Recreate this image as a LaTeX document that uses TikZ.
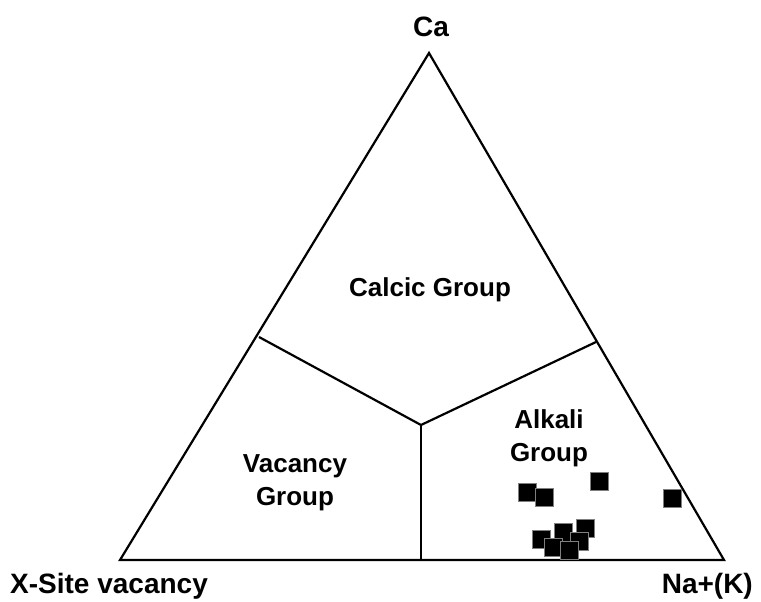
\documentclass[tikz,border=0pt]{standalone}
\usepackage{fontspec}
\setmainfont{Liberation Sans}
\usepackage{xcolor}
\usepackage{tikz}
\definecolor{ink}{HTML}{000000}
\definecolor{rim}{HTML}{7F7F7F}

\begin{document}
\begin{tikzpicture}[x=1pt,y=-1pt,
    corner/.style={font=\fontsize{28}{34}\selectfont\bfseries,inner sep=0pt},
    field/.style={font=\fontsize{26}{33}\selectfont\bfseries,inner sep=0pt,align=center},
    edge/.style={line width=2.2pt,line join=miter}]
  \useasboundingbox (0,0) rectangle (761,602);
  % corners of the diagram
  \coordinate (vac) at (120,560);
  \coordinate (na) at (724,560);
  \coordinate (ca) at (429,53);
  \coordinate (mid) at (421,425);
  \coordinate (lft) at (259,337);
  \coordinate (rgt) at (596,342);
  \coordinate (bot) at (421,560);
  \draw[edge] (vac) -- (na) -- (ca) -- cycle;
  \draw[edge] (lft) -- (mid) -- (rgt);
  \draw[edge] (mid) -- (bot);
  % labels
  \node[corner,anchor=base] (calab) at (431,37) {Ca};
  \node[corner,anchor=base west] (vaclab) at (10,593) {X-Site vacancy};
  \node[corner,anchor=base east] (nalab) at (753,593) {Na+(K)};
  \node[field,anchor=base] (calcic) at (430,296) {Calcic Group};
  \node[field,anchor=base] (vacancy) at (295,505) {Vacancy\\Group};
  \node[field,anchor=base] (alkali) at (549,461) {Alkali\\Group};
  % samples
  \foreach \px/\py in {527/492,544/497,599/481,672/498,541/539,563/532,585/528,553/547,579/541,569/550} {
    \fill[ink,draw=rim,line width=0.5pt] (\px-9,\py-9) rectangle (\px+9,\py+9);
  }
\end{tikzpicture}
\end{document}
